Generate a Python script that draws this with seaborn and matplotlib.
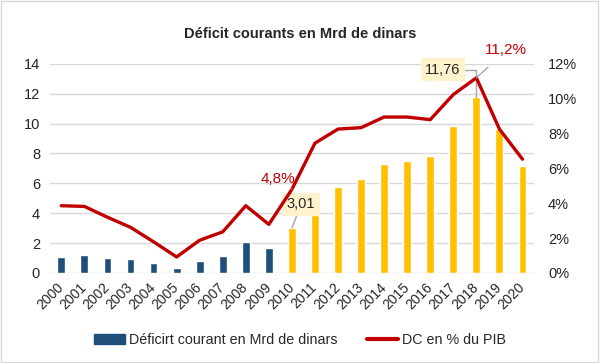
import numpy as np
import pandas as pd
import matplotlib
matplotlib.use("Agg")
import matplotlib.pyplot as plt
from matplotlib.patches import Patch, Rectangle
from matplotlib.lines import Line2D
import seaborn as sns

years = [str(y) for y in range(2000, 2021)]
deficit = [1.07, 1.19, 1.03, 0.94, 0.67, 0.36, 0.79, 1.14, 2.08, 1.66, 3.01,
           3.87, 5.78, 6.27, 7.32, 7.52, 7.86, 9.85, 11.76, 9.63, 7.17]
dc_pib = [3.86, 3.82, 3.2, 2.62, 1.79, 0.92, 1.88, 2.36, 3.86, 2.79, 4.8,
          7.45, 8.26, 8.34, 8.95, 8.95, 8.8, 10.24, 11.2, 8.26, 6.53]

blue = "#1F4E79"
gold = "#FFC000"
red = "#C00000"

sns.set_style("white")
plt.rcParams['font.family'] = ['Liberation Sans', 'DejaVu Sans']

df = pd.DataFrame({"year": years, "deficit": deficit, "pct": dc_pib})
df["pos"] = np.arange(len(df))

fig = plt.figure(figsize=(6, 3.63), dpi=100)
ax = fig.add_axes([0.083, 0.248, 0.807, 0.576])

colors = [blue if int(y) < 2010 else gold for y in years]
sns.barplot(data=df, x="year", y="deficit", hue="year", palette=colors,
            legend=False, width=0.34, ax=ax, saturation=1)
ax.set_ylim(0, 14)
ax.set_yticks(range(0, 15, 2))
ax.set_xlim(-0.5, len(years) - 0.5)
ax.grid(axis="y", color="#D9D9D9", lw=1)
ax.set_axisbelow(True)
for s in ax.spines.values():
    s.set_visible(False)
ax.set_xlabel("")
ax.set_ylabel("")
ax.tick_params(axis="y", labelsize=10.5, length=0, pad=7)
ax.tick_params(axis="x", labelsize=10, length=0, pad=9)
plt.setp(ax.get_xticklabels(), rotation=45, ha="right", va="center",
         rotation_mode="anchor")

ax2 = ax.twinx()
sns.lineplot(data=df, x="pos", y="pct", color=red, lw=2.4, ax=ax2)
ax2.set_ylim(0, 12)
ax2.set_yticks(range(0, 13, 2))
ax2.set_yticklabels([f"{v}%" for v in range(0, 13, 2)])
ax2.set_xlim(-0.5, len(years) - 0.5)
ax2.set_ylabel("")
ax2.set_xlabel("")
for s in ax2.spines.values():
    s.set_visible(False)
ax2.tick_params(axis="y", labelsize=10.5, length=0, pad=10)

# annotations
box = dict(boxstyle="square,pad=0.3", fc="#FFF2CC", ec="none")
ax.annotate("3,01", xy=(10, 3.01), xytext=(10.4, 4.6), fontsize=10.5,
            ha="center", va="center", bbox=box,
            arrowprops=dict(arrowstyle="-", color="#A6A6A6", lw=1,
                            shrinkA=0, shrinkB=0))
ax.annotate("11,76", xy=(18, 11.76), xytext=(16.55, 13.6), fontsize=10.5,
            ha="center", va="center", bbox=box,
            arrowprops=dict(arrowstyle="-", color="#A6A6A6", lw=1,
                            shrinkA=0, shrinkB=0,
                            connectionstyle="angle,angleA=0,angleB=90,rad=0"))
ax2.annotate("4,8%", xy=(10, 4.8), xytext=(9.4, 5.4), fontsize=11,
             color=red, ha="center", va="center",
             arrowprops=dict(arrowstyle="-", color="#A6A6A6", lw=1,
                             shrinkA=7, shrinkB=0))
ax2.annotate("11,2%", xy=(18, 11.2), xytext=(19.3, 12.77), fontsize=11,
             color=red, ha="center", va="center",
             arrowprops=dict(arrowstyle="-", color="#A6A6A6", lw=1,
                             shrinkA=7, shrinkB=0))

fig.text(0.5, 0.907, "Déficit courants en Mrd de dinars", ha="center",
         va="center", fontsize=10.5, fontweight="bold")

handles = [Patch(color=blue), Line2D([0], [0], color=red, lw=3)]
fig.legend(handles, ["Déficirt courant en Mrd de dinars", "DC en % du PIB"],
           loc="center", bbox_to_anchor=(0.5, 0.063), ncol=2, frameon=False,
           fontsize=10.3, handlelength=2.2, handletextpad=0.3,
           columnspacing=2.0)

fig.patches.append(Rectangle((0.002, 0.003), 0.995, 0.994,
                             transform=fig.transFigure, fill=False,
                             ec="#D9D9D9", lw=1))

fig.savefig("out.png", dpi=100)
